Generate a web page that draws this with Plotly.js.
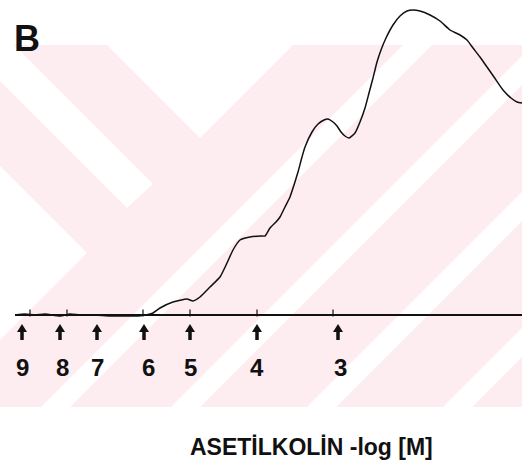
<!DOCTYPE html>
<html>
<head>
<meta charset="utf-8">
<script src="https://cdn.plot.ly/plotly-3.0.1.min.js"></script>
<style>html,body{margin:0;padding:0;background:#fff;}#chart{width:522px;height:468px;}</style>
</head>
<body>
<div id="chart"></div>
<script>
// Recording trace (time in arbitrary units, contraction response above baseline)
const time = [15,25,35,45,60,70,80,95,110,125,138,145,150,153,160,173,187,193,200,210,220,227,233,240,250,261,265,270,276,280,285,290,294,298,302,305,312,318,324,328,333,337,341,345,349,355,360,365,369,373,377,381,386,393,400,407,413,420,430,440,450,460,467,473,480,487,494,503,511,517,522];
const response = [0,1,0,1,-1,1,0,0,-1,-1,-1,0,1,2,7,13,16,14,18,28,38,52,65,75,78,79,79,87,93,98,108,118,130,143,158,168,183,191,195,196,193,189,183,179,177,182,193,207,222,237,253,265,277,290,299,304,305,304,300,294,285,280,275,267,258,248,238,225,217,213,212];
// Baseline
const baseX = [15, 522];
const baseY = [0, 0];
// Small event ticks on the baseline
const tickX = [30, 67, 143, 190, 257, 333];
// Acetylcholine additions (-log [M]) : arrow positions and labels
const doseX = [22, 60, 97, 144, 190, 257, 338];
const doseLabelX = [22, 62, 97, 148, 190, 257, 340];
const doseLabels = ['9','8','7','6','5','4','3'];
const xTitle = 'ASETİLKOLİN -log [M]';
const panelLabel = 'B';

const BASE_PX = 315;            // pixel row of the baseline
const Y = p => BASE_PX - p;     // pixel row -> y value (decoration helper)
const FONT = 'Liberation Sans, Arial, sans-serif';

const traces = [
  {x: baseX, y: baseY, mode: 'lines', line: {color: '#111', width: 2}, hoverinfo: 'skip', showlegend: false},
  {x: time, y: response, mode: 'lines', line: {color: '#111', width: 1.5, shape: 'spline', smoothing: 0.5}, hoverinfo: 'skip', showlegend: false},
  {x: tickX, y: tickX.map(() => 2), mode: 'markers', marker: {symbol: 'line-ns-open', size: 5, color: '#111', line: {color: '#111', width: 1.2}}, hoverinfo: 'skip', showlegend: false}
];

// watermark (decorative background)
const pink = 'rgb(253,236,240)';
function poly(pts, color) {
  return {type: 'path', layer: 'below', xref: 'x', yref: 'y', line: {width: 0}, fillcolor: color,
    path: 'M' + pts.map(p => p[0] + ',' + Y(p[1])).join(' L') + ' Z'};
}
function stripe(c) { // "/" diagonal white band, left edge x = c - py, width 29
  return poly([[c-45,45],[c-45+29,45],[c-407+29,407],[c-407,407]], '#fff');
}
const shapes = [
  poly([[0,45],[522,45],[522,407],[0,407]], pink),
  poly([[0,45],[14,45],[153,184],[127,208],[0,81]], '#fff'),
  poly([[107,45],[200,138],[293,45]], '#fff'),
  poly([[0,166],[87,253],[0,340]], '#fff'),
  stripe(448), stripe(578), stripe(714), stripe(850)
];
// dose arrows: shaft + head
doseX.forEach(x => {
  shapes.push({type: 'line', layer: 'above', xref: 'x', yref: 'y', x0: x, x1: x, y0: Y(330), y1: Y(340), line: {color: '#111', width: 3.5}});
  shapes.push({type: 'path', layer: 'above', xref: 'x', yref: 'y', line: {width: 0}, fillcolor: '#111',
    path: 'M' + x + ',' + Y(324) + ' L' + (x + 5) + ',' + Y(332) + ' L' + (x - 5) + ',' + Y(332) + ' Z'});
});

const annotations = [];
doseLabels.forEach((t, i) => annotations.push({x: doseLabelX[i], y: Y(367), xref: 'x', yref: 'y', text: '<b>' + t + '</b>',
  showarrow: false, xanchor: 'center', yanchor: 'middle', font: {family: FONT, size: 24, color: '#111'}}));
annotations.push({x: 311, y: Y(447), xref: 'x', yref: 'y', text: '<b>' + xTitle + '</b>', showarrow: false,
  xanchor: 'center', yanchor: 'middle', font: {family: FONT, size: 23, color: '#111'}});
annotations.push({x: 27, y: Y(38), xref: 'x', yref: 'y', text: '<b>' + panelLabel + '</b>', showarrow: false,
  xanchor: 'center', yanchor: 'middle', font: {family: FONT, size: 36, color: '#111'}});

const layout = {
  width: 522, height: 468,
  margin: {l: 0, r: 0, t: 0, b: 0, pad: 0},
  paper_bgcolor: '#fff', plot_bgcolor: 'rgba(0,0,0,0)',
  xaxis: {range: [0, 522], visible: false, fixedrange: true},
  yaxis: {range: [BASE_PX - 468, BASE_PX], visible: false, fixedrange: true},
  shapes: shapes, annotations: annotations, showlegend: false
};
Plotly.newPlot('chart', traces, layout, {staticPlot: true});
</script>
</body>
</html>
